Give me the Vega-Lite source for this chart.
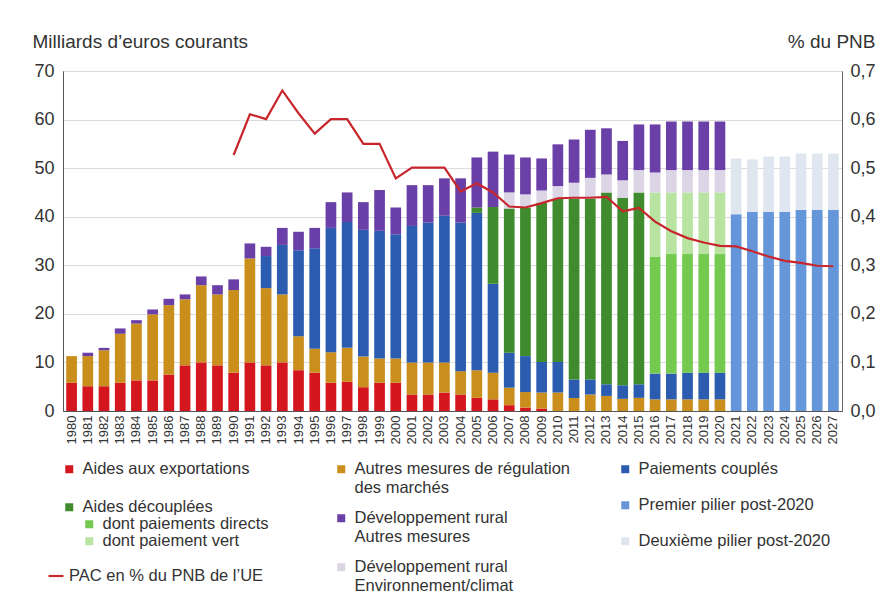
{
  "$schema": "https://vega.github.io/schema/vega-lite/v6.json",
  "width": 779,
  "height": 340,
  "autosize": "none",
  "padding": {"left": 63, "top": 71, "right": 41, "bottom": 190},
  "background": "white",
  "datasets": {
    "cats": [
      {"cat": "Aides aux exportations", "rank": 1},
      {"cat": "Autres mesures de régulation des marchés", "rank": 2},
      {"cat": "Paiements couplés", "rank": 3},
      {"cat": "Aides découplées", "rank": 4},
      {"cat": "dont paiements directs", "rank": 5},
      {"cat": "dont paiement vert", "rank": 6},
      {"cat": "Développement rural Environnement/climat", "rank": 7},
      {"cat": "Développement rural Autres mesures", "rank": 8},
      {"cat": "Premier pilier post-2020", "rank": 9},
      {"cat": "Deuxième pilier post-2020", "rank": 10}
    ],
    "bars": [
      {"year": 1980, "cat": "Aides aux exportations", "v": 5.8},
      {"year": 1980, "cat": "Autres mesures de régulation des marchés", "v": 5.5},
      {"year": 1981, "cat": "Aides aux exportations", "v": 5.1},
      {"year": 1981, "cat": "Autres mesures de régulation des marchés", "v": 6.2},
      {"year": 1981, "cat": "Développement rural Autres mesures", "v": 0.7},
      {"year": 1982, "cat": "Aides aux exportations", "v": 5.1},
      {"year": 1982, "cat": "Autres mesures de régulation des marchés", "v": 7.4},
      {"year": 1982, "cat": "Développement rural Autres mesures", "v": 0.5},
      {"year": 1983, "cat": "Aides aux exportations", "v": 5.8},
      {"year": 1983, "cat": "Autres mesures de régulation des marchés", "v": 10.1},
      {"year": 1983, "cat": "Développement rural Autres mesures", "v": 1.1},
      {"year": 1984, "cat": "Aides aux exportations", "v": 6.3},
      {"year": 1984, "cat": "Autres mesures de régulation des marchés", "v": 11.7},
      {"year": 1984, "cat": "Développement rural Autres mesures", "v": 0.7},
      {"year": 1985, "cat": "Aides aux exportations", "v": 6.3},
      {"year": 1985, "cat": "Autres mesures de régulation des marchés", "v": 13.6},
      {"year": 1985, "cat": "Développement rural Autres mesures", "v": 1.0},
      {"year": 1986, "cat": "Aides aux exportations", "v": 7.5},
      {"year": 1986, "cat": "Autres mesures de régulation des marchés", "v": 14.3},
      {"year": 1986, "cat": "Développement rural Autres mesures", "v": 1.3},
      {"year": 1987, "cat": "Aides aux exportations", "v": 9.4},
      {"year": 1987, "cat": "Autres mesures de régulation des marchés", "v": 13.6},
      {"year": 1987, "cat": "Développement rural Autres mesures", "v": 1.0},
      {"year": 1988, "cat": "Aides aux exportations", "v": 10.0},
      {"year": 1988, "cat": "Autres mesures de régulation des marchés", "v": 15.9},
      {"year": 1988, "cat": "Développement rural Autres mesures", "v": 1.8},
      {"year": 1989, "cat": "Aides aux exportations", "v": 9.4},
      {"year": 1989, "cat": "Autres mesures de régulation des marchés", "v": 14.6},
      {"year": 1989, "cat": "Développement rural Autres mesures", "v": 1.9},
      {"year": 1990, "cat": "Aides aux exportations", "v": 7.9},
      {"year": 1990, "cat": "Autres mesures de régulation des marchés", "v": 17.0},
      {"year": 1990, "cat": "Développement rural Autres mesures", "v": 2.2},
      {"year": 1991, "cat": "Aides aux exportations", "v": 10.0},
      {"year": 1991, "cat": "Autres mesures de régulation des marchés", "v": 21.4},
      {"year": 1991, "cat": "Développement rural Autres mesures", "v": 3.1},
      {"year": 1992, "cat": "Aides aux exportations", "v": 9.4},
      {"year": 1992, "cat": "Autres mesures de régulation des marchés", "v": 15.9},
      {"year": 1992, "cat": "Paiements couplés", "v": 6.6},
      {"year": 1992, "cat": "Développement rural Autres mesures", "v": 1.9},
      {"year": 1993, "cat": "Aides aux exportations", "v": 10.0},
      {"year": 1993, "cat": "Autres mesures de régulation des marchés", "v": 14.0},
      {"year": 1993, "cat": "Paiements couplés", "v": 10.2},
      {"year": 1993, "cat": "Développement rural Autres mesures", "v": 3.5},
      {"year": 1994, "cat": "Aides aux exportations", "v": 8.4},
      {"year": 1994, "cat": "Autres mesures de régulation des marchés", "v": 7.0},
      {"year": 1994, "cat": "Paiements couplés", "v": 17.7},
      {"year": 1994, "cat": "Développement rural Autres mesures", "v": 3.8},
      {"year": 1995, "cat": "Aides aux exportations", "v": 7.9},
      {"year": 1995, "cat": "Autres mesures de régulation des marchés", "v": 4.9},
      {"year": 1995, "cat": "Paiements couplés", "v": 20.7},
      {"year": 1995, "cat": "Développement rural Autres mesures", "v": 4.2},
      {"year": 1996, "cat": "Aides aux exportations", "v": 5.8},
      {"year": 1996, "cat": "Autres mesures de régulation des marchés", "v": 6.3},
      {"year": 1996, "cat": "Paiements couplés", "v": 25.6},
      {"year": 1996, "cat": "Développement rural Autres mesures", "v": 5.3},
      {"year": 1997, "cat": "Aides aux exportations", "v": 6.0},
      {"year": 1997, "cat": "Autres mesures de régulation des marchés", "v": 7.0},
      {"year": 1997, "cat": "Paiements couplés", "v": 25.9},
      {"year": 1997, "cat": "Développement rural Autres mesures", "v": 6.1},
      {"year": 1998, "cat": "Aides aux exportations", "v": 4.9},
      {"year": 1998, "cat": "Autres mesures de régulation des marchés", "v": 6.3},
      {"year": 1998, "cat": "Paiements couplés", "v": 26.1},
      {"year": 1998, "cat": "Développement rural Autres mesures", "v": 5.7},
      {"year": 1999, "cat": "Aides aux exportations", "v": 5.8},
      {"year": 1999, "cat": "Autres mesures de régulation des marchés", "v": 5.0},
      {"year": 1999, "cat": "Paiements couplés", "v": 26.3},
      {"year": 1999, "cat": "Développement rural Autres mesures", "v": 8.4},
      {"year": 2000, "cat": "Aides aux exportations", "v": 5.8},
      {"year": 2000, "cat": "Autres mesures de régulation des marchés", "v": 5.0},
      {"year": 2000, "cat": "Paiements couplés", "v": 25.6},
      {"year": 2000, "cat": "Développement rural Autres mesures", "v": 5.5},
      {"year": 2001, "cat": "Aides aux exportations", "v": 3.4},
      {"year": 2001, "cat": "Autres mesures de régulation des marchés", "v": 6.6},
      {"year": 2001, "cat": "Paiements couplés", "v": 28.1},
      {"year": 2001, "cat": "Développement rural Autres mesures", "v": 8.4},
      {"year": 2002, "cat": "Aides aux exportations", "v": 3.4},
      {"year": 2002, "cat": "Autres mesures de régulation des marchés", "v": 6.6},
      {"year": 2002, "cat": "Paiements couplés", "v": 28.8},
      {"year": 2002, "cat": "Développement rural Autres mesures", "v": 7.7},
      {"year": 2003, "cat": "Aides aux exportations", "v": 3.8},
      {"year": 2003, "cat": "Autres mesures de régulation des marchés", "v": 6.2},
      {"year": 2003, "cat": "Paiements couplés", "v": 30.2},
      {"year": 2003, "cat": "Développement rural Autres mesures", "v": 7.7},
      {"year": 2004, "cat": "Aides aux exportations", "v": 3.4},
      {"year": 2004, "cat": "Autres mesures de régulation des marchés", "v": 4.8},
      {"year": 2004, "cat": "Paiements couplés", "v": 30.6},
      {"year": 2004, "cat": "Développement rural Autres mesures", "v": 9.1},
      {"year": 2005, "cat": "Aides aux exportations", "v": 2.7},
      {"year": 2005, "cat": "Autres mesures de régulation des marchés", "v": 5.7},
      {"year": 2005, "cat": "Paiements couplés", "v": 32.4},
      {"year": 2005, "cat": "Aides découplées", "v": 1.1},
      {"year": 2005, "cat": "Développement rural Autres mesures", "v": 10.3},
      {"year": 2006, "cat": "Aides aux exportations", "v": 2.4},
      {"year": 2006, "cat": "Autres mesures de régulation des marchés", "v": 5.5},
      {"year": 2006, "cat": "Paiements couplés", "v": 18.3},
      {"year": 2006, "cat": "Aides découplées", "v": 15.8},
      {"year": 2006, "cat": "Développement rural Autres mesures", "v": 11.4},
      {"year": 2007, "cat": "Aides aux exportations", "v": 1.2},
      {"year": 2007, "cat": "Autres mesures de régulation des marchés", "v": 3.6},
      {"year": 2007, "cat": "Paiements couplés", "v": 7.2},
      {"year": 2007, "cat": "Aides découplées", "v": 29.7},
      {"year": 2007, "cat": "Développement rural Environnement/climat", "v": 3.3},
      {"year": 2007, "cat": "Développement rural Autres mesures", "v": 7.8},
      {"year": 2008, "cat": "Aides aux exportations", "v": 0.7},
      {"year": 2008, "cat": "Autres mesures de régulation des marchés", "v": 3.2},
      {"year": 2008, "cat": "Paiements couplés", "v": 7.4},
      {"year": 2008, "cat": "Aides découplées", "v": 30.6},
      {"year": 2008, "cat": "Développement rural Environnement/climat", "v": 2.7},
      {"year": 2008, "cat": "Développement rural Autres mesures", "v": 7.6},
      {"year": 2009, "cat": "Aides aux exportations", "v": 0.5},
      {"year": 2009, "cat": "Autres mesures de régulation des marchés", "v": 3.3},
      {"year": 2009, "cat": "Paiements couplés", "v": 6.3},
      {"year": 2009, "cat": "Aides découplées", "v": 32.8},
      {"year": 2009, "cat": "Développement rural Environnement/climat", "v": 2.5},
      {"year": 2009, "cat": "Développement rural Autres mesures", "v": 6.6},
      {"year": 2010, "cat": "Autres mesures de régulation des marchés", "v": 3.8},
      {"year": 2010, "cat": "Paiements couplés", "v": 6.3},
      {"year": 2010, "cat": "Aides découplées", "v": 33.6},
      {"year": 2010, "cat": "Développement rural Environnement/climat", "v": 2.6},
      {"year": 2010, "cat": "Développement rural Autres mesures", "v": 8.6},
      {"year": 2011, "cat": "Autres mesures de régulation des marchés", "v": 2.7},
      {"year": 2011, "cat": "Paiements couplés", "v": 3.8},
      {"year": 2011, "cat": "Aides découplées", "v": 37.2},
      {"year": 2011, "cat": "Développement rural Environnement/climat", "v": 3.3},
      {"year": 2011, "cat": "Développement rural Autres mesures", "v": 8.9},
      {"year": 2012, "cat": "Autres mesures de régulation des marchés", "v": 3.4},
      {"year": 2012, "cat": "Paiements couplés", "v": 3.1},
      {"year": 2012, "cat": "Aides découplées", "v": 37.2},
      {"year": 2012, "cat": "Développement rural Environnement/climat", "v": 4.3},
      {"year": 2012, "cat": "Développement rural Autres mesures", "v": 9.9},
      {"year": 2013, "cat": "Autres mesures de régulation des marchés", "v": 3.1},
      {"year": 2013, "cat": "Paiements couplés", "v": 2.4},
      {"year": 2013, "cat": "Aides découplées", "v": 39.5},
      {"year": 2013, "cat": "Développement rural Environnement/climat", "v": 3.7},
      {"year": 2013, "cat": "Développement rural Autres mesures", "v": 9.5},
      {"year": 2014, "cat": "Autres mesures de régulation des marchés", "v": 2.5},
      {"year": 2014, "cat": "Paiements couplés", "v": 2.8},
      {"year": 2014, "cat": "Aides découplées", "v": 38.6},
      {"year": 2014, "cat": "Développement rural Environnement/climat", "v": 3.6},
      {"year": 2014, "cat": "Développement rural Autres mesures", "v": 8.1},
      {"year": 2015, "cat": "Autres mesures de régulation des marchés", "v": 2.7},
      {"year": 2015, "cat": "Paiements couplés", "v": 2.8},
      {"year": 2015, "cat": "Aides découplées", "v": 39.5},
      {"year": 2015, "cat": "Développement rural Environnement/climat", "v": 4.6},
      {"year": 2015, "cat": "Développement rural Autres mesures", "v": 9.4},
      {"year": 2016, "cat": "Autres mesures de régulation des marchés", "v": 2.4},
      {"year": 2016, "cat": "Paiements couplés", "v": 5.3},
      {"year": 2016, "cat": "dont paiements directs", "v": 24.0},
      {"year": 2016, "cat": "dont paiement vert", "v": 13.3},
      {"year": 2016, "cat": "Développement rural Environnement/climat", "v": 4.1},
      {"year": 2016, "cat": "Développement rural Autres mesures", "v": 9.9},
      {"year": 2017, "cat": "Autres mesures de régulation des marchés", "v": 2.4},
      {"year": 2017, "cat": "Paiements couplés", "v": 5.3},
      {"year": 2017, "cat": "dont paiements directs", "v": 24.6},
      {"year": 2017, "cat": "dont paiement vert", "v": 12.7},
      {"year": 2017, "cat": "Développement rural Environnement/climat", "v": 4.6},
      {"year": 2017, "cat": "Développement rural Autres mesures", "v": 10.0},
      {"year": 2018, "cat": "Autres mesures de régulation des marchés", "v": 2.4},
      {"year": 2018, "cat": "Paiements couplés", "v": 5.5},
      {"year": 2018, "cat": "dont paiements directs", "v": 24.4},
      {"year": 2018, "cat": "dont paiement vert", "v": 12.7},
      {"year": 2018, "cat": "Développement rural Environnement/climat", "v": 4.6},
      {"year": 2018, "cat": "Développement rural Autres mesures", "v": 10.0},
      {"year": 2019, "cat": "Autres mesures de régulation des marchés", "v": 2.4},
      {"year": 2019, "cat": "Paiements couplés", "v": 5.5},
      {"year": 2019, "cat": "dont paiements directs", "v": 24.4},
      {"year": 2019, "cat": "dont paiement vert", "v": 12.7},
      {"year": 2019, "cat": "Développement rural Environnement/climat", "v": 4.6},
      {"year": 2019, "cat": "Développement rural Autres mesures", "v": 10.0},
      {"year": 2020, "cat": "Autres mesures de régulation des marchés", "v": 2.4},
      {"year": 2020, "cat": "Paiements couplés", "v": 5.5},
      {"year": 2020, "cat": "dont paiements directs", "v": 24.4},
      {"year": 2020, "cat": "dont paiement vert", "v": 12.7},
      {"year": 2020, "cat": "Développement rural Environnement/climat", "v": 4.6},
      {"year": 2020, "cat": "Développement rural Autres mesures", "v": 10.0},
      {"year": 2021, "cat": "Premier pilier post-2020", "v": 40.5},
      {"year": 2021, "cat": "Deuxième pilier post-2020", "v": 11.5},
      {"year": 2022, "cat": "Premier pilier post-2020", "v": 41.0},
      {"year": 2022, "cat": "Deuxième pilier post-2020", "v": 10.8},
      {"year": 2023, "cat": "Premier pilier post-2020", "v": 41.0},
      {"year": 2023, "cat": "Deuxième pilier post-2020", "v": 11.4},
      {"year": 2024, "cat": "Premier pilier post-2020", "v": 41.0},
      {"year": 2024, "cat": "Deuxième pilier post-2020", "v": 11.4},
      {"year": 2025, "cat": "Premier pilier post-2020", "v": 41.4},
      {"year": 2025, "cat": "Deuxième pilier post-2020", "v": 11.6},
      {"year": 2026, "cat": "Premier pilier post-2020", "v": 41.4},
      {"year": 2026, "cat": "Deuxième pilier post-2020", "v": 11.6},
      {"year": 2027, "cat": "Premier pilier post-2020", "v": 41.4},
      {"year": 2027, "cat": "Deuxième pilier post-2020", "v": 11.6}
    ],
    "pac": [
      {"year": 1990, "pct": 0.527}, {"year": 1991, "pct": 0.611}, {"year": 1992, "pct": 0.601},
      {"year": 1993, "pct": 0.660}, {"year": 1994, "pct": 0.613}, {"year": 1995, "pct": 0.571},
      {"year": 1996, "pct": 0.601}, {"year": 1997, "pct": 0.601}, {"year": 1998, "pct": 0.550},
      {"year": 1999, "pct": 0.550}, {"year": 2000, "pct": 0.479}, {"year": 2001, "pct": 0.501},
      {"year": 2002, "pct": 0.501}, {"year": 2003, "pct": 0.501}, {"year": 2004, "pct": 0.452},
      {"year": 2005, "pct": 0.469}, {"year": 2006, "pct": 0.450}, {"year": 2007, "pct": 0.421},
      {"year": 2008, "pct": 0.419}, {"year": 2009, "pct": 0.428}, {"year": 2010, "pct": 0.438},
      {"year": 2011, "pct": 0.439}, {"year": 2012, "pct": 0.439}, {"year": 2013, "pct": 0.441},
      {"year": 2014, "pct": 0.411}, {"year": 2015, "pct": 0.418}, {"year": 2016, "pct": 0.390},
      {"year": 2017, "pct": 0.370}, {"year": 2018, "pct": 0.356}, {"year": 2019, "pct": 0.347},
      {"year": 2020, "pct": 0.340}, {"year": 2021, "pct": 0.339}, {"year": 2022, "pct": 0.329},
      {"year": 2023, "pct": 0.318}, {"year": 2024, "pct": 0.309}, {"year": 2025, "pct": 0.305},
      {"year": 2026, "pct": 0.299}, {"year": 2027, "pct": 0.298}
    ]
  },
  "layer": [
    {
      "layer": [
        {
          "data": {"name": "bars"},
          "transform": [
            {"lookup": "cat", "from": {"data": {"name": "cats"}, "key": "cat", "fields": ["rank"]}}
          ],
          "mark": {"type": "bar"},
          "encoding": {
            "x": {
              "field": "year", "type": "ordinal",
              "scale": {"paddingInner": 0.34, "paddingOuter": 0.2},
              "axis": {"title": null, "labelAngle": -90, "labelFontSize": 13, "ticks": false, "labelPadding": 4, "domainColor": "#555", "labelColor": "#333"}
            },
            "y": {
              "field": "v", "type": "quantitative", "stack": "zero",
              "scale": {"domain": [0, 70], "nice": false},
              "axis": {
                "orient": "left", "values": [0, 10, 20, 30, 40, 50, 60, 70],
                "title": "Milliards d’euros courants", "titleAngle": 0, "titleAlign": "left", "titleBaseline": "alphabetic",
                "titleX": -31, "titleY": -24, "titleFontSize": 19, "titleFontWeight": "normal", "titleColor": "#333",
                "labelFontSize": 18, "labelPadding": 9, "labelColor": "#333", "ticks": false,
                "grid": true, "gridColor": "#dcdcdc", "domainColor": "#555"
              }
            },
            "order": {"field": "rank", "type": "quantitative", "sort": "ascending"},
            "color": {
              "field": "cat", "type": "nominal",
              "scale": {
                "domain": ["Aides aux exportations", "Autres mesures de régulation des marchés", "Paiements couplés", "Aides découplées", "dont paiements directs", "dont paiement vert", "Développement rural Environnement/climat", "Développement rural Autres mesures", "Premier pilier post-2020", "Deuxième pilier post-2020"],
                "range": ["#d4161f", "#c98e1b", "#2c5cb0", "#3f8b2d", "#74c94f", "#b8e3a1", "#dcd5e6", "#6a3fa7", "#6596d9", "#dfe6f0"]
              },
              "legend": null
            }
          }
        },
        {
          "data": {"name": "bars"},
          "transform": [{"filter": "false"}],
          "mark": {"type": "bar"},
          "encoding": {
            "color": {
              "field": "cat", "type": "nominal",
              "scale": {"domain": ["Aides aux exportations", "Aides découplées"], "range": ["#d4161f", "#3f8b2d"]},
              "legend": {"orient": "none", "legendX": -2, "legendY": 390, "rowPadding": 21, "title": null}
            }
          }
        },
        {
          "data": {"name": "bars"},
          "transform": [{"filter": "false"}],
          "mark": {"type": "bar"},
          "encoding": {
            "color": {
              "field": "cat", "type": "nominal",
              "scale": {"domain": ["dont paiements directs", "dont paiement vert"], "range": ["#74c94f", "#b8e3a1"]},
              "legend": {"orient": "none", "legendX": 18, "legendY": 445, "rowPadding": 0, "title": null}
            }
          }
        },
        {
          "data": {"name": "bars"},
          "transform": [{"filter": "false"}],
          "mark": {"type": "bar"},
          "encoding": {
            "color": {
              "field": "cat", "type": "nominal",
              "scale": {"domain": ["Autres mesures de régulation des marchés", "Développement rural Autres mesures", "Développement rural Environnement/climat"], "range": ["#c98e1b", "#6a3fa7", "#dcd5e6"]},
              "legend": {
                "orient": "none", "legendX": 270, "legendY": 390, "rowPadding": 13, "title": null,
                "labelExpr": "datum.label == 'Autres mesures de régulation des marchés' ? ['Autres mesures de régulation', 'des marchés'] : datum.label == 'Développement rural Autres mesures' ? ['Développement rural', 'Autres mesures'] : ['Développement rural', 'Environnement/climat']"
              }
            }
          }
        },
        {
          "data": {"name": "bars"},
          "transform": [{"filter": "false"}],
          "mark": {"type": "bar"},
          "encoding": {
            "color": {
              "field": "cat", "type": "nominal",
              "scale": {"domain": ["Paiements couplés", "Premier pilier post-2020", "Deuxième pilier post-2020"], "range": ["#2c5cb0", "#6596d9", "#dfe6f0"]},
              "legend": {"orient": "none", "legendX": 554, "legendY": 390, "rowPadding": 19, "title": null}
            }
          }
        }
      ],
      "resolve": {"scale": {"color": "independent"}}
    },
    {
      "data": {"name": "pac"},
      "mark": {"type": "line", "strokeWidth": 2.2},
      "encoding": {
        "x": {
          "field": "year", "type": "ordinal",
          "axis": {"title": null, "labelAngle": -90, "labelFontSize": 13, "ticks": false, "labelPadding": 4, "domainColor": "#555", "labelColor": "#333"}
        },
        "y": {
          "field": "pct", "type": "quantitative",
          "scale": {"domain": [0, 0.7], "nice": false},
          "axis": {
            "orient": "right", "values": [0, 0.1, 0.2, 0.3, 0.4, 0.5, 0.6, 0.7],
            "labelExpr": "replace(format(datum.value, '.1f'), '.', ',')",
            "title": "% du PNB", "titleAngle": 0, "titleAlign": "right", "titleBaseline": "alphabetic",
            "titleX": 33, "titleY": -24, "titleFontSize": 19, "titleFontWeight": "normal", "titleColor": "#333",
            "labelFontSize": 18, "labelPadding": 8, "labelColor": "#333", "ticks": false, "grid": false, "domainColor": "#666"
          }
        },
        "stroke": {
          "datum": "PAC en % du PNB de l’UE", "type": "nominal",
          "scale": {"range": ["#c8262c"]},
          "legend": {"orient": "none", "legendX": -16, "legendY": 496, "title": null, "symbolType": "stroke", "symbolSize": 225, "symbolStrokeWidth": 2.2, "labelOffset": 4}
        }
      }
    }
  ],
  "resolve": {"scale": {"y": "independent"}},
  "config": {
    "font": "Liberation Sans",
    "view": {"stroke": "#8a8a8a", "strokeWidth": 1},
    "legend": {
      "labelFontSize": 16.5, "labelColor": "#333", "labelLimit": 400,
      "symbolType": "square", "symbolSize": 64, "symbolStrokeWidth": 0,
      "padding": 0, "labelOffset": 5, "direction": "vertical"
    }
  }
}
